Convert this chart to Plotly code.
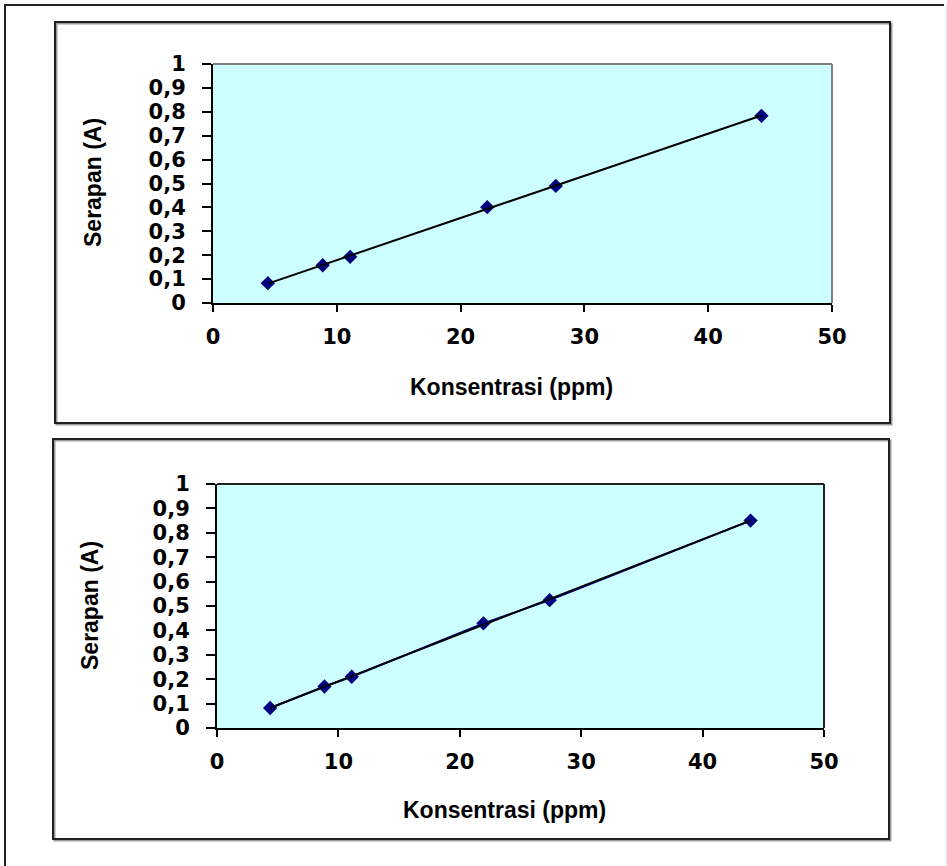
import numpy as np
import plotly.graph_objects as go

# ---------------- data ----------------
conc_1 = [4.43, 8.86, 11.08, 22.15, 27.69, 44.3]
abs_1 = [0.083, 0.158, 0.193, 0.401, 0.490, 0.783]

conc_2 = [4.38, 8.85, 11.1, 21.95, 27.4, 43.95]
abs_2 = [0.082, 0.170, 0.210, 0.429, 0.524, 0.850]

y_tickvals = [0, 0.1, 0.2, 0.3, 0.4, 0.5, 0.6, 0.7, 0.8, 0.9, 1.0]
y_ticktext = ["0", "0,1", "0,2", "0,3", "0,4", "0,5", "0,6", "0,7", "0,8", "0,9", "1"]
x_tickvals = [0, 10, 20, 30, 40, 50]
x_ticktext = ["0", "10", "20", "30", "40", "50"]

x_title = "Konsentrasi (ppm)"
y_title = "Serapan (A)"

# ---------------- layout helpers ----------------
W, H = 947, 866


def px(x):
    return x / W


def py(y):
    return 1 - y / H


NAVY = "#000080"
DARK = "#231f20"

fig = go.Figure()


def trend(xs, ys):
    m, b = np.polyfit(xs, ys, 1)
    xx = np.array([min(xs), max(xs)])
    return xx, m * xx + b


# chart 1
tx1, ty1 = trend(conc_1, abs_1)
fig.add_trace(go.Scatter(x=conc_1, y=abs_1, mode="markers",
                         marker=dict(symbol="diamond", size=11, color=NAVY),
                         xaxis="x", yaxis="y", showlegend=False, hoverinfo="skip"))
fig.add_trace(go.Scatter(x=tx1, y=ty1, mode="lines", line=dict(color="black", width=2),
                         xaxis="x", yaxis="y", showlegend=False, hoverinfo="skip"))

# chart 2
tx2, ty2 = trend(conc_2, abs_2)
fig.add_trace(go.Scatter(x=conc_2, y=abs_2, mode="lines+markers",
                         line=dict(color=NAVY, width=2),
                         marker=dict(symbol="diamond", size=11, color=NAVY),
                         xaxis="x2", yaxis="y2", showlegend=False, hoverinfo="skip"))
fig.add_trace(go.Scatter(x=tx2, y=ty2, mode="lines", line=dict(color="black", width=2),
                         xaxis="x2", yaxis="y2", showlegend=False, hoverinfo="skip"))

tick_font = dict(family="DejaVu Sans", size=21, color="black", weight="bold")

xcommon = dict(range=[0, 50], tickvals=x_tickvals, ticktext=x_ticktext,
               showgrid=False, zeroline=False, showline=True, linecolor="black",
               linewidth=2, ticks="outside", ticklen=7, tickwidth=2, tickcolor="black",
               tickfont=tick_font, ticklabelstandoff=7, fixedrange=True)
ycommon = dict(range=[0, 1], tickvals=y_tickvals, ticktext=y_ticktext,
               showgrid=False, zeroline=False, showline=True, linecolor="black",
               linewidth=2, ticks="outside", ticklen=9, tickwidth=2, tickcolor="black",
               tickfont=tick_font, ticklabelstandoff=12, fixedrange=True)

fig.update_layout(
    width=W, height=H,
    margin=dict(l=0, r=0, t=0, b=0, autoexpand=False),
    paper_bgcolor="white",
    plot_bgcolor="#ccffff",
    xaxis=dict(domain=[px(213), px(832)], anchor="y", **xcommon),
    yaxis=dict(domain=[py(303), py(64)], anchor="x", **ycommon),
    xaxis2=dict(domain=[px(217), px(824)], anchor="y2", **xcommon),
    yaxis2=dict(domain=[py(728), py(484)], anchor="x2", **ycommon),
)

shapes = []
# outer page border
shapes.append(dict(type="line", xref="paper", yref="paper", x0=px(5), x1=px(5), y0=py(4), y1=py(866),
                   line=dict(color=DARK, width=2)))
shapes.append(dict(type="line", xref="paper", yref="paper", x0=px(4), x1=px(944), y0=py(5), y1=py(5),
                   line=dict(color=DARK, width=2)))
shapes.append(dict(type="line", xref="paper", yref="paper", x0=px(946), x1=px(946), y0=py(4), y1=py(866),
                   line=dict(color="#e0e0e0", width=1)))

# chart boxes (shadow + frame)
for (x0, y0, x1, y1) in [(55, 22, 890, 423), (53, 439, 889, 839)]:
    shapes.append(dict(type="rect", xref="paper", yref="paper",
                       x0=px(x0 + 1.5), x1=px(x1 + 1.5), y0=py(y0 + 1.5), y1=py(y1 + 1.5),
                       line=dict(color="#9a9a9a", width=2)))
    shapes.append(dict(type="rect", xref="paper", yref="paper",
                       x0=px(x0), x1=px(x1), y0=py(y0), y1=py(y1),
                       line=dict(color=DARK, width=2)))

# plot area top/right borders
for xr, yr, col in [("x domain", "y domain", "#808080"), ("x2 domain", "y2 domain", DARK)]:
    shapes.append(dict(type="line", xref=xr, yref=yr, x0=0, x1=1, y0=1, y1=1,
                       line=dict(color=col, width=2), layer="above"))
    shapes.append(dict(type="line", xref=xr, yref=yr, x0=1, x1=1, y0=0, y1=1,
                       line=dict(color=col, width=2), layer="above"))

fig.update_layout(shapes=shapes)

title_font = dict(family="Liberation Sans", size=23, color="black", weight="bold")
annotations = [
    dict(text=x_title, x=px(511), y=py(387), xref="paper", yref="paper",
         showarrow=False, xanchor="center", yanchor="middle", font=title_font),
    dict(text=y_title, x=px(93), y=py(183), xref="paper", yref="paper", textangle=-90,
         showarrow=False, xanchor="center", yanchor="middle", font=title_font),
    dict(text=x_title, x=px(505), y=py(810), xref="paper", yref="paper",
         showarrow=False, xanchor="center", yanchor="middle", font=title_font),
    dict(text=y_title, x=px(90), y=py(606), xref="paper", yref="paper", textangle=-90,
         showarrow=False, xanchor="center", yanchor="middle", font=title_font),
]
fig.update_layout(annotations=annotations)

fig.write_html("out.html", config=dict(displayModeBar=False),
               post_script="document.body.style.margin='0px';document.body.style.overflow='hidden';")
